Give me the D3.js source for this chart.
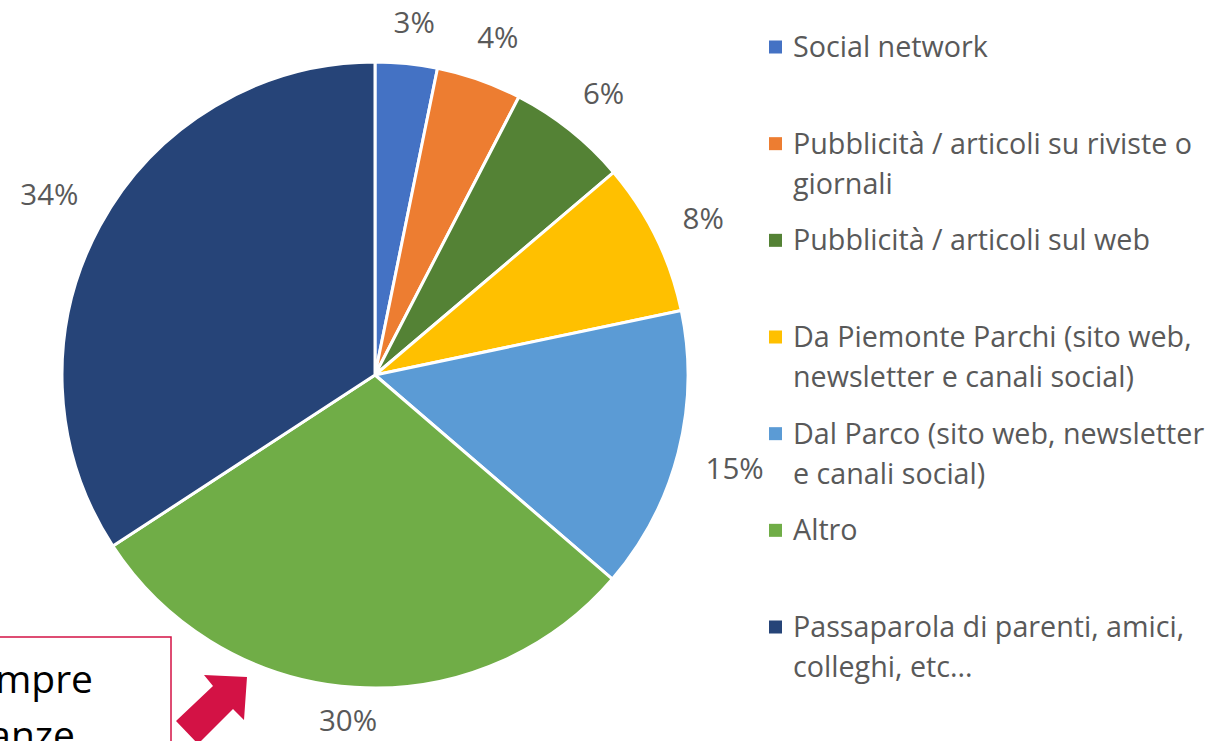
<!DOCTYPE html>
<html>
<head>
<meta charset="utf-8">
<script src="https://cdn.jsdelivr.net/npm/d3@7"></script>
<style>
  html, body { margin: 0; padding: 0; background: #fff; }
  svg { display: block; }
</style>
</head>
<body>
<svg id="chart" width="1210" height="741"></svg>
<script>
const categories = [
  "Social network",
  "Pubblicità / articoli su riviste o giornali",
  "Pubblicità / articoli sul web",
  "Da Piemonte Parchi (sito web, newsletter e canali social)",
  "Dal Parco (sito web, newsletter e canali social)",
  "Altro",
  "Passaparola di parenti, amici, colleghi, etc..."
];
const legendLines = [
  ["Social network"],
  ["Pubblicità / articoli su riviste o", "giornali"],
  ["Pubblicità / articoli sul web"],
  ["Da Piemonte Parchi (sito web,", "newsletter e canali social)"],
  ["Dal Parco (sito web, newsletter", "e canali social)"],
  ["Altro"],
  ["Passaparola di parenti, amici,", "colleghi, etc..."]
];
const values = [3.2, 4.4, 6.2, 7.9, 14.6, 29.5, 34.2];
const labels = ["3%", "4%", "6%", "8%", "15%", "30%", "34%"];
const colors = ["#4472C4", "#ED7D31", "#548235", "#FFC000", "#5B9BD5", "#70AD47", "#264478"];
const noteLines = ["mpre", "anze"];

const svg = d3.select("#chart");
const cx = 375, cy = 375, R = 313;
const font = "'Open Sans', 'Noto Sans', sans-serif";

const pie = d3.pie().sort(null).value(d => d)(values);
const arc = d3.arc().innerRadius(0).outerRadius(R);

const g = svg.append("g").attr("transform", `translate(${cx},${cy})`);
g.selectAll("path.slice")
  .data(pie)
  .join("path")
  .attr("class", "slice")
  .attr("d", arc)
  .attr("fill", (d, i) => colors[i])
  .attr("stroke", "#fff")
  .attr("stroke-width", 3)
  .attr("stroke-linejoin", "round");

// data labels, outside end
const fs = 29.5;
g.selectAll("text.lbl")
  .data(pie)
  .join("text")
  .attr("class", "lbl")
  .each(function (d, i) {
    const a = (d.startAngle + d.endAngle) / 2 + 0.01;
    const hw = labels[i].length * 0.33 * fs;
    const hh = 12;
    const r = R + 28 + Math.abs(hw * Math.sin(a)) + Math.abs(hh * Math.cos(a));
    let y = -r * Math.cos(a);
    if (y > 0) y *= 0.975;
    d3.select(this)
      .attr("x", r * Math.sin(a))
      .attr("y", y)
      .attr("dy", "0.36em");
  })
  .attr("text-anchor", "middle")
  .attr("font-family", font)
  .attr("font-size", fs)
  .attr("fill", "#595959")
  .text((d, i) => labels[i]);

// legend
const lg = svg.append("g");
const legendY = d3.scalePoint().domain(d3.range(categories.length)).range([47, 627]);
categories.forEach((c, i) => {
  const y = legendY(i);
  lg.append("rect")
    .attr("x", 769).attr("y", y - 6.5)
    .attr("width", 13).attr("height", 13)
    .attr("fill", colors[i]);
  legendLines[i].forEach((line, j) => {
    lg.append("text")
      .attr("x", 793)
      .attr("y", y + j * 40 + 10)
      .attr("font-family", font)
      .attr("font-size", 28.7)
      .attr("fill", "#595959")
      .text(line);
  });
});

// annotation box (partially off-canvas)
svg.append("rect")
  .attr("x", -20).attr("y", 637)
  .attr("width", 191).attr("height", 140)
  .attr("fill", "#fff")
  .attr("stroke", "#D31245")
  .attr("stroke-width", 1.5);
const noteRight = [93, 75];
noteLines.forEach((t, i) => {
  svg.append("text")
    .attr("x", noteRight[i])
    .attr("y", 693 + i * 56)
    .attr("text-anchor", "end")
    .attr("font-family", font)
    .attr("font-size", 39)
    .attr("fill", "#000")
    .text(t);
});

// arrow
svg.append("path")
  .attr("d", "M176,721 L213,686 L204,675 L247,677 L244,720 L233,709 L198,744 Z")
  .attr("fill", "#D31245");
</script>
</body>
</html>
